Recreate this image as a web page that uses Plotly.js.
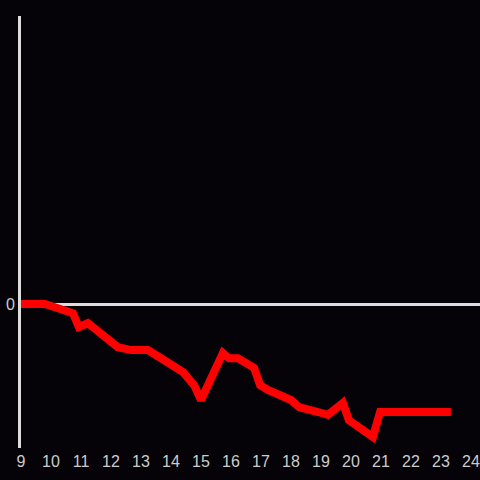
<!DOCTYPE html>
<html>
<head>
<meta charset="utf-8">
<script src="https://cdn.plot.ly/plotly-3.0.1.min.js"></script>
<style>html,body{margin:0;padding:0;background:#050308;}#chart{width:480px;height:480px;}</style>
</head>
<body>
<div id="chart"></div>
<script>
const hours = [9, 9.8, 10.73, 10.93, 11.23, 12.23, 12.67, 13.23, 13.67, 14.1, 14.4, 14.77, 15, 15.73, 15.93, 16.23, 16.77, 16.97, 17.23, 18, 18.27, 18.9, 19.23, 19.73, 19.93, 20.73, 20.97, 23.33];
const values = [0, 0, -0.19, -0.48, -0.40, -0.90, -0.96, -0.96, -1.13, -1.31, -1.42, -1.69, -2.0, -1.02, -1.13, -1.13, -1.33, -1.69, -1.79, -2.0, -2.15, -2.25, -2.31, -2.06, -2.42, -2.77, -2.25, -2.25];
const xTicks = [9,10,11,12,13,14,15,16,17,18,19,20,21,22,23,24];
const yTicks = [0];

const trace = {
  x: hours, y: values, type: 'scatter', mode: 'lines',
  line: {color: '#ff0000', width: 8}, hoverinfo: 'skip'
};
const layout = {
  width: 480, height: 480,
  margin: {l: 21, r: 0, t: 16, b: 32},
  paper_bgcolor: '#050308', plot_bgcolor: '#050308',
  showlegend: false,
  font: {family: 'Liberation Sans, Arial, sans-serif', size: 16, color: '#cccccc'},
  xaxis: {range: [9, 24.3], tickvals: xTicks, ticktext: xTicks.map(String),
          showgrid: false, zeroline: false, showline: false, ticks: '',
          ticklabelstandoff: 2,
          tickfont: {size: 16, color: '#cccccc'}},
  yaxis: {range: [-3, 6], tickvals: yTicks, ticktext: ['0'], showgrid: false,
          zeroline: true, zerolinecolor: '#dddddd', zerolinewidth: 3,
          showline: true, linecolor: '#dddddd', linewidth: 3, ticks: '',
          tickfont: {size: 16, color: '#cccccc'}}
};
Plotly.newPlot('chart', [trace], layout, {displayModeBar: false, staticPlot: true});
</script>
</body>
</html>
